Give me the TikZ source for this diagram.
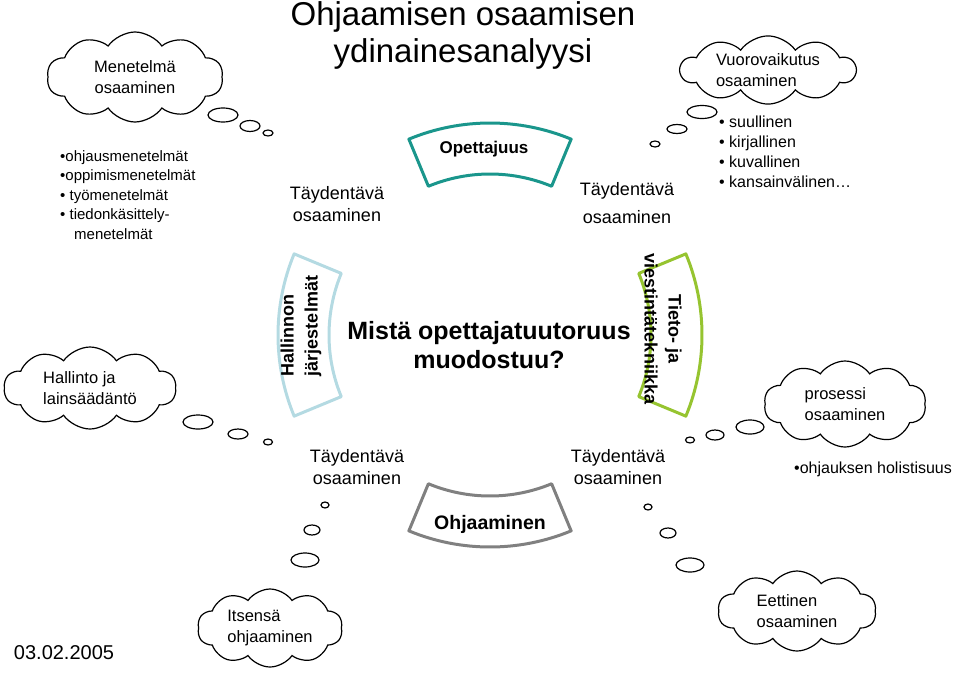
\documentclass[tikz,border=0pt]{standalone}
\usepackage{fontspec}
\setmainfont{Liberation Sans}
\usetikzlibrary{shapes.symbols}
\definecolor{segteal}{RGB}{26,150,140}
\definecolor{segblue}{RGB}{180,218,226}
\definecolor{seggreen}{RGB}{150,196,48}
\definecolor{seggray}{RGB}{128,128,128}

\begin{document}
\begin{tikzpicture}[
    x=1pt,y=-1pt,
    thought/.style={draw,cloud,cloud puffs=10,cloud puff arc=110,cloud ignores aspect,
        line width=1.2pt,inner sep=0pt,align=left,font=\fontsize{16.5}{21}\selectfont},
    bubble/.style={draw,line width=1.2pt},
    seg/.style={line width=3pt,line join=round},
    segtext/.style={font=\bfseries\fontsize{18}{24}\selectfont,align=center},
    extra/.style={font=\fontsize{18}{22}\selectfont,align=center},
    list/.style={font=\fontsize{15}{19.5}\selectfont,align=left,anchor=north west,inner sep=0pt}
]
\useasboundingbox (0,0) rectangle (960,675);
\coordinate (ctr) at (490,335);

% the four segments round the centre
\foreach \a/\col in {270/segteal,180/segblue,0/seggreen,90/seggray}{
    \pgfmathsetmacro\lo{\a-22.5}
    \pgfmathsetmacro\hi{\a+22.5}
    \draw[seg,\col] ([shift={(ctr)}]\lo:212) arc[start angle=\lo,end angle=\hi,radius=212]
        -- ([shift={(ctr)}]\hi:161) arc[start angle=\hi,end angle=\lo,radius=161] -- cycle;
}

\node[font=\fontsize{33}{37}\selectfont,align=center] (title) at (463,35)
    {Ohjaamisen osaamisen\\ydinainesanalyysi};
\node[font=\bfseries\fontsize{25}{29}\selectfont,align=center] (question) at (489,345)
    {Mistä opettajatuutoruus\\muodostuu?};

\node[segtext,font=\bfseries\fontsize{17}{21}\selectfont] (opettajuus) at (484,149) {Opettajuus};
\node[segtext,font=\bfseries\fontsize{19.5}{23}\selectfont] (ohjaaminen) at (490,524) {Ohjaaminen};
\node[segtext,rotate=90,align=left] (hallinnon) at (301,326) {Hallinnon\\järjestelmät};
\node[segtext,rotate=-90] (tieto) at (663,329) {Tieto- ja\\viestintätekniikka};

% clouds
\node[thought,align=center,minimum width=176,minimum height=90] (menetelma) at (135,77)
    {Menetelmä\\osaaminen};
\node[thought,minimum width=175,minimum height=68] (vuoro) at (768,70)
    {Vuorovaikutus\\osaaminen};
\node[thought,minimum width=172,minimum height=82] (hallinto) at (90,388)
    {Hallinto ja\\lainsäädäntö};
\node[thought,minimum width=162,minimum height=86] (prosessi) at (845,404)
    {prosessi\\osaaminen};
\node[thought,minimum width=145,minimum height=78] (itsensa) at (270,628)
    {Itsensä\\ohjaaminen};
\node[thought,minimum width=158,minimum height=80] (eettinen) at (797,611)
    {Eettinen\\osaaminen};

% thought bubbles
\foreach \x/\y/\rx/\ry in {223/115/15/7, 250/126/10/5.5, 268/133/5/3,
    702/112/15/6.5, 677/129/10/4.5, 655/144/5/3,
    198/422/15/7, 238/434/10/5, 268/442/4.5/3,
    750/427/14/7, 715/435/9/5, 690/440/4.5/3,
    325/505/4/3, 312/530/8/5, 305/560/14/7,
    648/507/4/3, 668/533/8/5, 690/565/14/7}
    \draw[bubble] (\x,\y) ellipse[x radius=\rx,y radius=\ry];

% lists
\node[list] (methods) at (60,150)
    {•ohjausmenetelmät\\•oppimismenetelmät\\• työmenetelmät\\• tiedonkäsittely-\\\hspace*{14pt}menetelmät};
\node[list,font=\fontsize{16}{20}\selectfont] (viestinta) at (719,116)
    {• suullinen\\• kirjallinen\\• kuvallinen\\• kansainvälinen…};
\node[list,font=\fontsize{16}{20}\selectfont] (holistisuus) at (794,462) {•ohjauksen holistisuus};

% supplementary skills
\node[extra] (tayd1) at (337,204) {Täydentävä\\osaaminen};
\node[extra] (tayd2) at (627,203) {Täydentävä\\[6pt]osaaminen};
\node[extra] (tayd3) at (357,467) {Täydentävä\\osaaminen};
\node[extra] (tayd4) at (618,467) {Täydentävä\\osaaminen};

\node[font=\fontsize{20}{24}\selectfont] (date) at (64,653) {03.02.2005};
\end{tikzpicture}
\end{document}
